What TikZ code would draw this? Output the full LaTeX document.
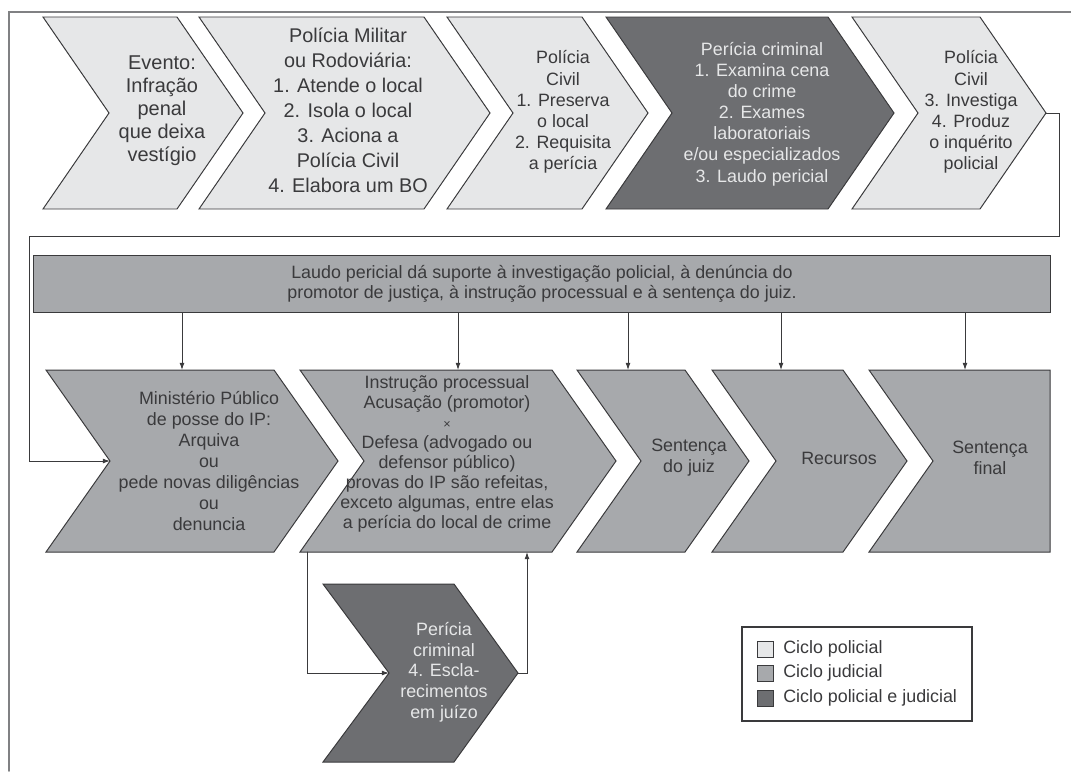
\documentclass[tikz,border=0pt]{standalone}
\usepackage{fontspec}
\setmainfont{Liberation Sans}
\usepackage{tikz}
\usetikzlibrary{arrows.meta}
\definecolor{claro}{HTML}{E6E7E8}
\definecolor{medio}{HTML}{A7A9AC}
\definecolor{escuro}{HTML}{6D6E71}
\definecolor{traco}{HTML}{3A3A3C}
\definecolor{moldura}{HTML}{808183}

\begin{document}
\begin{tikzpicture}[line cap=round,line join=miter,>={Latex[length=5pt,width=3.4pt]},x=0.025cm,y=-0.025cm,
	policial/.style={draw=traco,line width=0.7pt,fill=claro},
	judicial/.style={draw=traco,line width=0.7pt,fill=medio},
	ambos/.style={draw=traco,line width=0.7pt,fill=escuro},
	texto/.style={align=center,text=traco,inner sep=0pt,font=\fontsize{12.7}{15}\selectfont},
	textoclaro/.style={texto,text=claro},
	liga/.style={draw=traco,line width=0.6pt},
	quadro/.style={draw=traco,line width=0.6pt,minimum size=0.4cm,inner sep=0pt}]
			\useasboundingbox (0,0) rectangle (1071,771);
			\draw[moldura,line width=1.2pt] (9,771) -- (9,12) -- (1071,12);
			% ciclo policial (linha de cima)
			\draw[policial] (43,17) -- (177,17) -- (243,113) -- (177,209) -- (43,209) -- (109,113) -- cycle;
			\draw[policial] (199,17) -- (424,17) -- (490,113) -- (424,209) -- (199,209) -- (265,113) -- cycle;
			\draw[policial] (447,17) -- (582,17) -- (648,113) -- (582,209) -- (447,209) -- (513,113) -- cycle;
			\draw[ambos] (606,17) -- (828,17) -- (894,113) -- (828,209) -- (606,209) -- (672,113) -- cycle;
			\draw[policial] (852,17) -- (980,17) -- (1046,113) -- (980,209) -- (852,209) -- (918,113) -- cycle;
			\coordinate (c5tip) at (1046,113);
			\node[texto,font=\fontsize{14.2}{16.4}\selectfont] (t1) at (162,111) {Evento:\\Infração\\penal\\que deixa\\vestígio};
			\node[texto,font=\fontsize{14.1}{17.8}\selectfont] (t2) at (348,110) {Polícia Militar\\ou Rodoviária:\\1. Atende o local\\2. Isola o local\\3. Aciona a\\Polícia Civil\\4. Elabora um BO};
			\node[texto] (t3) at (563,112) {Polícia\\Civil\\1. Preserva\\o local\\2. Requisita\\a perícia};
			\node[textoclaro] (t4) at (762,114) {Perícia criminal\\1. Examina cena\\do crime\\2. Exames\\laboratoriais\\e/ou especializados\\3. Laudo pericial};
			\node[texto] (t5) at (971,112) {Polícia\\Civil\\3. Investiga\\4. Produz\\o inquérito\\policial};
			% laudo
			\node[judicial,texto,minimum width=25.4cm,minimum height=1.425cm,font=\fontsize{12.7}{14}\selectfont] (laudo) at (542,283.5) {Laudo pericial dá suporte à investigação policial, à denúncia do\\promotor de justiça, à instrução processual e à sentença do juiz.};
			% ciclo judicial (linha de baixo)
			\draw[judicial] (46,370) -- (274,370) -- (338,461) -- (274,552) -- (46,552) -- (110,461) -- cycle;
			\draw[judicial] (300,370) -- (552,370) -- (616,461) -- (552,552) -- (300,552) -- (364,461) -- cycle;
			\draw[judicial] (577,370) -- (685,370) -- (749,461) -- (685,552) -- (577,552) -- (641,461) -- cycle;
			\draw[judicial] (712,370) -- (843,370) -- (907,461) -- (843,552) -- (712,552) -- (776,461) -- cycle;
			\draw[judicial] (869,370) -- (1050,370) -- (1050,552) -- (869,552) -- (933,461) -- cycle;
			\draw[ambos] (323,584) -- (454,584) -- (518,673) -- (454,762) -- (323,762) -- (389,673) -- cycle;
			\coordinate (b1notch) at (110,461);
			\coordinate (b6notch) at (389,673);
			\coordinate (b6tip) at (518,673);
			\coordinate (b2sai) at (307,552);
			\coordinate (b2ent) at (527,552);
			\coordinate (canto) at (29,236);
			\coordinate (b1in) at (182,370);
			\coordinate (b2in) at (458,370);
			\coordinate (b3in) at (628,370);
			\coordinate (b4in) at (781,370);
			\coordinate (b5in) at (965,370);
			\node[texto] (m1) at (209,461) {Ministério Público\\de posse do IP:\\Arquiva\\ou\\pede novas diligências\\ou\\denuncia};
			\node[texto,font=\fontsize{12.7}{14.2}\selectfont] (m2) at (447,454) {Instrução processual\\Acusação (promotor)\\{\small ×}\\Defesa (advogado ou\\defensor público)\\provas do IP são refeitas,\\exceto algumas, entre elas\\a perícia do local de crime};
			\node[texto] (m3) at (689,458) {Sentença\\do juiz};
			\node[texto] (m4) at (839,458) {Recursos};
			\node[texto] (m5) at (990,458) {Sentença\\final};
			\node[textoclaro,font=\fontsize{12.7}{14.7}\selectfont] (m6) at (444,672) {Perícia\\criminal\\4. Escla-\\recimentos\\em juízo};
			% ligacoes
			\draw[liga,->] (c5tip) -- ++(13,0) |- (canto) |- (b1notch);
			\foreach \a in {b1in,b2in,b3in,b4in,b5in}
				\draw[liga,->] (laudo.south -| \a) -- (\a);
			\draw[liga,->] (b2sai) |- (b6notch);
			\draw[liga,->] (b6tip) -| (b2ent);
			% legenda
			\node[draw=traco,line width=0.8pt,minimum width=5.75cm,minimum height=2.35cm] (legenda) at (857,674) {};
			\node[quadro,fill=claro] (q1) at (765,649) {};
			\node[quadro,fill=medio] (q2) at (765,673) {};
			\node[quadro,fill=escuro] (q3) at (765,698) {};
			\node[texto,anchor=west] (l1) at (783,649) {Ciclo policial};
			\node[texto,anchor=west] (l2) at (783,673) {Ciclo judicial};
			\node[texto,anchor=west] (l3) at (783,698) {Ciclo policial e judicial};
		\end{tikzpicture}
\end{document}
